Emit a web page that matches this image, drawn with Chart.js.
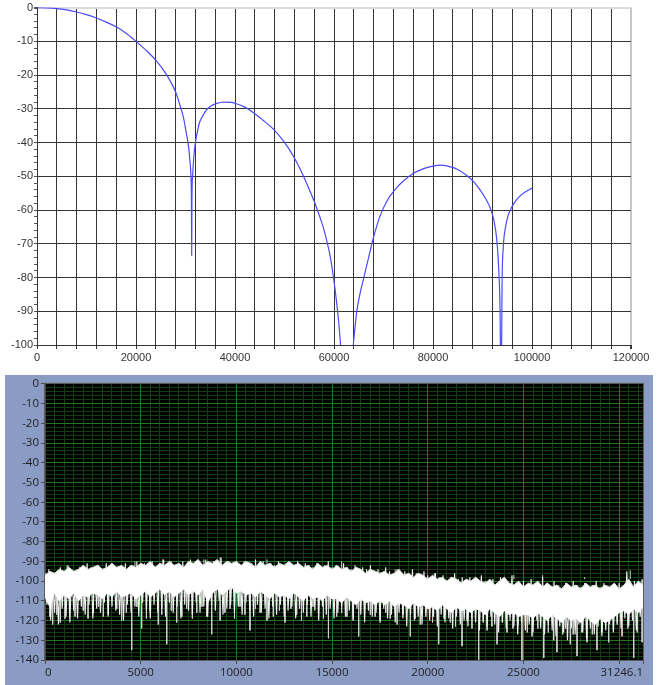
<!DOCTYPE html>
<html><head><meta charset="utf-8">
<script src="https://cdn.jsdelivr.net/npm/chart.js@4.4.1/dist/chart.umd.min.js"></script>
<style>
html,body{margin:0;padding:0;background:#fff;width:658px;height:685px;overflow:hidden;}
#top{position:absolute;left:0;top:0;width:658px;height:368px;}
#panel{position:absolute;left:5px;top:375px;width:648px;height:310px;background:#8a9cc4;}
canvas{display:block;}
</style></head><body>
<div id="top"><canvas id="c1" width="658" height="368" style="width:658px;height:368px"></canvas></div>
<div id="panel"><canvas id="c2" width="648" height="310" style="width:648px;height:310px"></canvas></div>
<script>
// ---------- Top chart: frequency response ----------
const respFreq = [0,2000,4000,6000,8000,10000,12000,14000,16000,18000,20000,22000,24000,26000,27000,28000,29000,29600,30200,30600,30900,31100,31200,31250,31300,31450,31700,32000,32300,32800,33600,34300,35300,36300,37300,38300,39300,40300,42000,43600,45600,47600,49600,51000,52000,53000,54000,55000,56200,57200,58000,59200,59900,60500,61000,61250,61500,62000,62500,63000,63500,63900,64300,64600,65300,65950,67000,68000,69300,70700,72300,74000,76000,78000,80000,81500,83000,85000,87000,88200,89500,90500,91500,92300,92900,93300,93550,93750,93950,94200,94600,95200,95900,96700,97600,98800,100000];
const respGain = [0,-0.1,-0.3,-0.7,-1.3,-2.1,-3.1,-4.3,-5.7,-7.6,-10,-12.6,-15.6,-19.5,-22,-25,-29.5,-32.7,-37.5,-41,-45.5,-50,-57,-73.5,-57,-49.5,-44,-40,-37.6,-34.2,-31.8,-30.2,-29,-28.4,-28.05,-28,-28.1,-28.5,-29.5,-31,-33.3,-35.8,-39.2,-42.1,-44.6,-47.4,-50.5,-53.9,-58.2,-62.3,-66,-73.5,-80,-87,-94,-98.5,-104,-120,-150,-122,-108,-100,-94,-90,-84.5,-80.5,-74,-68,-61.8,-57.3,-54,-51.4,-49.2,-47.8,-47,-46.7,-47,-48,-50,-51.6,-54,-56.3,-59.2,-63,-69,-78,-90,-120,-82,-71,-65.5,-61.5,-59.2,-57.3,-55.8,-54.5,-53.5];
const topXLabels = [0,20000,40000,60000,80000,100000,120000];
const topYLabels = [0,-10,-20,-30,-40,-50,-60,-70,-80,-90,-100];

// ---------- Bottom chart: noise spectrum ----------
// solid core of the noise band (every 250 Hz)
const noiseStep = 250;
const noiseTop = [-97,-95,-96,-94,-95,
 -93,-95,-94,-92,-94,-93,
 -92,-94,-93,-91,-93,-92,-94,-92,-93,-91,
 -92,-90,-93,-91,-92,-90,-92,-91,-93,-90,
 -91,-89,-92,-90,-91,-89,-92,-90,-91,-90,
 -92,-90,-91,-93,-90,-92,-91,-93,-91,-92,
 -90,-92,-91,-93,-92,-94,-91,-93,-92,-94,
 -92,-94,-93,-95,-93,-94,-96,-94,-95,-96,
 -95,-97,-96,-94,-97,-96,-98,-96,-97,-99,
 -97,-99,-98,-100,-98,-99,-101,-99,-100,-98,
 -100,-101,-99,-102,-100,-98,-101,-102,-100,-103,
 -101,-102,-100,-103,-101,-103,-102,-104,-101,-103,
 -102,-104,-101,-103,-102,-104,-102,-103,-101,-104,
 -102,-99,-103,-100,-102];
const noiseCore = [-108,-113,-106,-110,-107,
 -109,-106,-110,-107,-108,-106,
 -107,-109,-106,-108,-105,-108,-107,-106,-109,-107,
 -105,-108,-106,-104,-107,-105,-108,-106,-104,-107,
 -105,-107,-104,-111,-106,-104,-107,-105,-103,-106,
 -105,-107,-106,-108,-105,-107,-109,-106,-108,-107,
 -109,-106,-108,-110,-107,-109,-108,-110,-107,-109,
 -109,-111,-108,-110,-112,-109,-111,-110,-112,-110,
 -112,-110,-113,-111,-112,-114,-111,-113,-112,-114,
 -113,-115,-112,-114,-116,-113,-115,-114,-116,-114,
 -115,-117,-114,-116,-118,-115,-117,-116,-118,-117,
 -117,-119,-116,-118,-120,-117,-119,-121,-118,-120,
 -119,-121,-118,-120,-122,-119,-121,-120,-118,-116,
 -115,-117,-114,-116,-113];
// ragged extent of the noise trace (every 200 Hz: high at f, low at f+100)
const traceStep = 200;
const traceHi = [-96,-94,-97,-95,-93,-95,-92,-94,-96,-93,
 -94,-91,-93,-95,-92,-94,-91,-93,-92,-95,
 -93,-91,-94,-92,-90,-93,-91,-92,-90,-93,
 -91,-89,-92,-90,-93,-91,-90,-92,-89,-91,
 -90,-92,-89,-91,-90,-93,-88,-91,-90,-92,
 -91,-93,-90,-92,-91,-89,-92,-90,-93,-91,
 -92,-90,-93,-91,-94,-92,-90,-93,-91,-92,
 -93,-91,-94,-92,-90,-93,-92,-94,-91,-93,
 -94,-92,-95,-93,-94,-92,-95,-94,-96,-93,
 -95,-97,-94,-96,-95,-97,-94,-96,-98,-95,
 -97,-99,-96,-98,-97,-100,-98,-96,-99,-98,
 -100,-98,-101,-99,-97,-100,-102,-99,-101,-98,
 -100,-102,-97,-101,-103,-100,-102,-99,-101,-103,
 -98,-101,-103,-100,-102,-104,-101,-103,-100,-102,
 -103,-101,-104,-102,-100,-103,-101,-104,-102,-103,
 -101,-103,-95,-102,-100,-103,-99];
const traceLo = [-112,-120,-116,-122,-114,-118,-121,-115,-119,-113,
 -117,-112,-119,-114,-116,-111,-118,-113,-115,-117,
 -120,-112,-116,-113,-118,-111,-115,-119,-112,-116,
 -114,-118,-111,-116,-113,-119,-112,-115,-117,-111,
 -116,-113,-118,-112,-115,-110,-117,-114,-112,-116,
 -113,-117,-111,-115,-118,-112,-116,-114,-119,-113,
 -117,-112,-118,-115,-113,-119,-114,-116,-112,-118,
 -115,-120,-113,-117,-114,-119,-116,-113,-118,-115,
 -119,-114,-117,-121,-115,-118,-116,-120,-114,-119,
 -117,-121,-116,-119,-123,-117,-120,-118,-122,-116,
 -120,-118,-123,-117,-121,-119,-124,-118,-122,-120,
 -123,-119,-121,-125,-120,-123,-118,-122,-126,-121,
 -124,-120,-123,-127,-121,-125,-122,-126,-120,-124,
 -127,-122,-125,-128,-123,-126,-130,-124,-127,-122,
 -126,-129,-124,-127,-123,-128,-125,-122,-126,-121,
 -124,-119,-123,-120,-125,-118,-122];
// isolated deep dips and tall peaks
const spikeFreq = [250,400,610,800,1045,1300,1570,2000,2250,2530,2800,3050,3310,3750,4000,4250,4530,4800,5050,5300,5490,5920,6100,6360,6600,6880,7150,7400,7700,7930,8200,8450,8710,9150,9400,9670,9900,10190,10450,10710,11000,11240,11600,11930,12250,12540,12850,13150,13400,13680,14000,14290,14550,14810,15240,15500,15780,16100,16390,16700,17000,17250,17520,17800,18040,18400,18700,19090,19350,19610,19900,20250,20570,20850,21180,21450,21790,22050,22310,22660,22900,23100,23350,23620,23900,24140,24450,24700,24920,25200,25450,25750,26060,26300,26580,26750,27050,27200,27450,27600,27800,28050,28320,28600,28840,29100,29450,29700,29900,30150,30450,30760,30950,31200];
const spikeLow = [-118,-122,-117,-121,-119,-114,-118,-115,-119,-116,-113,-118,-117,-114,-120,-116,-135,-113,-124,-119,-115,-122,-117,-132,-115,-121,-118,-114,-119,-116,-113,-118,-127,-120,-116,-114,-119,-113,-117,-125,-114,-116,-120,-118,-115,-121,-114,-117,-120,-118,-113,-116,-119,-129,-118,-116,-118,-120,-128,-114,-117,-118,-121,-116,-119,-122,-117,-128,-119,-122,-118,-121,-132,-119,-121,-123,-133,-120,-124,-140,-121,-125,-123,-132,-121,-126,-124,-122,-140,-126,-128,-124,-139,-126,-130,-136,-127,-124,-132,-127,-138,-126,-131,-127,-135,-126,-131,-125,-122,-128,-124,-139,-126,-131];
const upFreq = [1150,4700,6150,8300,9150,11600,15500,18300,20350,24500,26000,28200,30580];
const upHigh = [-92,-90,-89,-89,-88,-89,-90,-94,-96,-97,-97,-98,-94.5];
const specXTicks = [0,5000,10000,15000,20000,25000,30000,31246.1];
const specXLabels = ['0','5000','10000','15000','20000','25000','','31246.1'];
const specYLabels = [0,-10,-20,-30,-40,-50,-60,-70,-80,-90,-100,-110,-120,-130,-140];

function range(a, b, s){ const r=[]; for(let v=a; v<=b+1e-9; v+=s) r.push({value: Math.round(v*1000)/1000}); return r; }

// ================= TOP CHART =================
new Chart(document.getElementById('c1'), {
  type: 'line',
  data: { datasets: [{
    data: respFreq.map((f,i)=>({x:f, y:respGain[i]})),
    borderColor: '#4a4aff', borderWidth: 1.2, pointRadius: 0,
    cubicInterpolationMode: 'monotone', fill: false,
    xAxisID: 'x', yAxisID: 'y'
  }]},
  options: {
    responsive: false, animation: false, events: [],
    layout: { padding: { top: 0, right: 27, left: 0, bottom: 0 } },
    plugins: { legend: { display: false }, tooltip: { enabled: false } },
    scales: {
      x: {
        type: 'linear', min: 0, max: 120000,
        afterBuildTicks: s => { s.ticks = range(0, 120000, 4000); },
        afterFit: s => { s.height = 23; },
        ticks: { autoSkip: false, maxRotation: 0, padding: 2, color: '#333',
          font: { family: 'Liberation Sans, Arial', size: 11 },
          callback: v => topXLabels.includes(v) ? String(v) : '' },
        grid: { color: c => (c.tick && c.tick.value === 120000) ? '#c8c8c8' : '#353535',
          tickColor: '#353535', tickLength: 4, lineWidth: c => (c.tick && c.tick.value === 120000) ? 2 : 1 },
        border: { color: '#353535' }
      },
      y: {
        type: 'linear', min: -100, max: 0,
        afterBuildTicks: s => { s.ticks = range(-100, 0, 2); },
        afterFit: s => { s.width = 37; },
        ticks: { autoSkip: false, padding: 1, color: '#333',
          font: { family: 'Liberation Sans, Arial', size: 11 },
          callback: v => topYLabels.includes(v) ? String(v) : '' },
        grid: {
          color: c => { const v = c.tick ? c.tick.value : 1; if (v === 0) return '#dcdcdc'; return (v % 10 === 0) ? '#353535' : 'rgba(0,0,0,0)'; },
          lineWidth: c => (c.tick && c.tick.value === 0) ? 2 : 1,
          tickColor: '#555', tickLength: 3
        },
        border: { color: '#353535' }
      }
    }
  }
});

// ================= BOTTOM CHART =================
const noiseFreq = noiseTop.map((_, i) => i * noiseStep);
const traceData = [];
traceHi.forEach((h, i) => { traceData.push({x: i * traceStep, y: h}, {x: i * traceStep + traceStep / 2, y: traceLo[i]}); });
const spikeData = [];
spikeFreq.forEach((f, i) => { spikeData.push({x:f, y:-103}, {x:f, y:spikeLow[i]}, {x:f, y:null}); });
const upData = [];
upFreq.forEach((f, i) => { upData.push({x:f, y:-99}, {x:f, y:upHigh[i]}, {x:f, y:null}); });

const plotBg = {
  id: 'plotBg',
  beforeDraw(chart) {
    const a = chart.chartArea, ctx = chart.ctx;
    ctx.save(); ctx.fillStyle = '#000'; ctx.fillRect(a.left, a.top, a.right - a.left, a.bottom - a.top); ctx.restore();
  },
  afterDraw(chart) {
    const a = chart.chartArea, ctx = chart.ctx;
    ctx.save(); ctx.strokeStyle = '#5a5a5a'; ctx.lineWidth = 1;
    ctx.strokeRect(a.left - 0.5, a.top - 0.5, a.right - a.left + 1, a.bottom - a.top + 1); ctx.restore();
  }
};

const fontB = { family: 'Open Sans, DejaVu Sans', size: 11.5 };
new Chart(document.getElementById('c2'), {
  type: 'line',
  data: { datasets: [
    { data: noiseFreq.map((f,i)=>({x:f, y:noiseTop[i]})), borderColor: '#dcdcdc', borderWidth: 1,
      backgroundColor: '#ffffff', fill: '+1', pointRadius: 0, tension: 0, order: 1, xAxisID: 'x', yAxisID: 'y' },
    { data: noiseFreq.map((f,i)=>({x:f, y:noiseCore[i]})), borderColor: '#f4f4f4', borderWidth: 1,
      fill: false, pointRadius: 0, tension: 0, order: 1, xAxisID: 'x', yAxisID: 'y' },
    { data: traceData, borderColor: '#f2f2f2', borderWidth: 1.1, fill: false, pointRadius: 0,
      tension: 0, order: 2, xAxisID: 'x', yAxisID: 'y' },
    { data: spikeData, borderColor: '#d0d0d0', borderWidth: 1, fill: false, pointRadius: 0, spanGaps: false,
      order: 3, xAxisID: 'x', yAxisID: 'y' },
    { data: upData, borderColor: '#d0d0d0', borderWidth: 1, fill: false, pointRadius: 0, spanGaps: false,
      order: 3, xAxisID: 'x', yAxisID: 'y' }
  ]},
  options: {
    responsive: false, animation: false, events: [],
    layout: { padding: { top: 8, right: 10, left: 0, bottom: 0 } },
    plugins: { legend: { display: false }, tooltip: { enabled: false } },
    scales: {
      x: {
        type: 'linear', min: 0, max: 31246.1, position: 'bottom',
        afterBuildTicks: s => { s.ticks = specXTicks.map(v => ({value: v})); },
        afterFit: s => { s.height = 25; },
        ticks: { autoSkip: false, maxRotation: 0, align: 'inner', padding: 2, color: '#1e1e1e', font: fontB,
          callback: (v, i) => specXLabels[i] },
        grid: { color: '#1f781f', tickColor: '#4a4a4a', tickLength: 4, z: -1 },
        border: { color: '#4a4a4a' }
      },
      xm: {
        type: 'linear', min: 0, max: 31246.1, position: 'bottom',
        afterBuildTicks: s => { s.ticks = range(0, 31000, 500); },
        afterFit: s => { s.height = 0; },
        ticks: { display: false },
        grid: { color: '#0f3f0f', drawTicks: false, z: -2 },
        border: { display: false }
      },
      y: {
        type: 'linear', min: -140, max: 0, position: 'left',
        afterBuildTicks: s => { s.ticks = specYLabels.slice().reverse().map(v => ({value: v})); },
        afterFit: s => { s.width = 40; },
        ticks: { autoSkip: false, padding: 2, color: '#1e1e1e', font: fontB, callback: v => String(v) },
        grid: { color: '#1f781f', tickColor: '#4a4a4a', tickLength: 4, z: -1 },
        border: { color: '#4a4a4a' }
      },
      ym: {
        type: 'linear', min: -140, max: 0, position: 'left',
        afterBuildTicks: s => { s.ticks = range(-140, 0, 2); },
        afterFit: s => { s.width = 0; },
        ticks: { display: false },
        grid: { color: '#0f3f0f', drawTicks: false, z: -2 },
        border: { display: false }
      }
    }
  },
  plugins: [plotBg]
});
</script></body></html>
